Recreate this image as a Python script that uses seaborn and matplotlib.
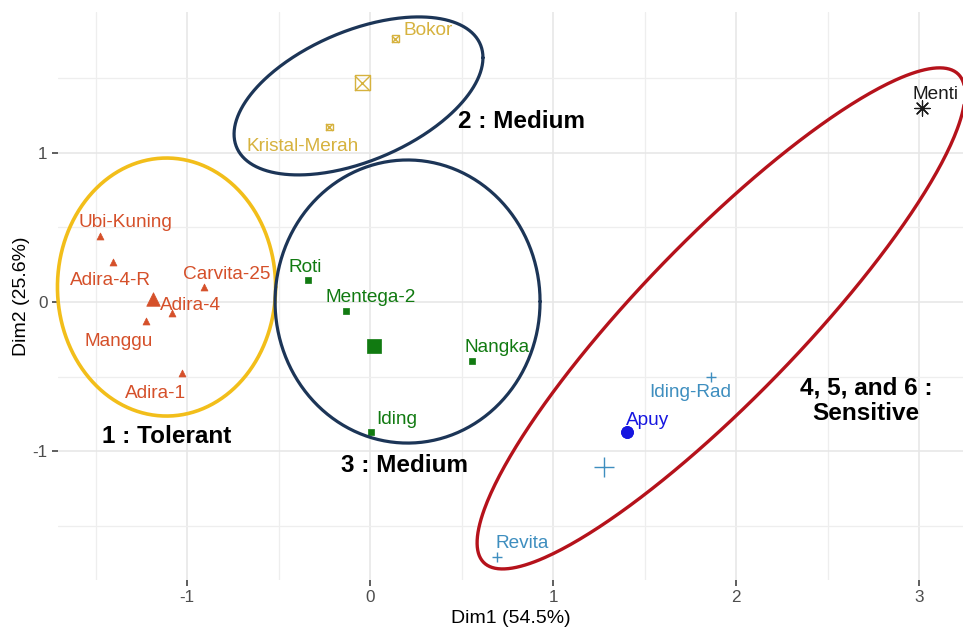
import numpy as np
import pandas as pd
import matplotlib
matplotlib.use("Agg")
import matplotlib.pyplot as plt
import seaborn as sns
from matplotlib.ticker import MultipleLocator

# PCA scores of the genotypes (first two dimensions) and their cluster
genotypes = ["Ubi-Kuning", "Adira-4-R", "Adira-4", "Carvita-25", "Manggu", "Adira-1",
             "Bokor", "Kristal-Merah",
             "Roti", "Mentega-2", "Nangka", "Iding",
             "Apuy",
             "Iding-Rad", "Revita",
             "Menti"]
dim1 = [-1.475, -1.404, -1.082, -0.907, -1.224, -1.027,
        0.137, -0.224,
        -0.339, -0.131, 0.557, 0.005,
        1.404,
        1.863, 0.694,
        3.016]
dim2 = [0.442, 0.268, -0.074, 0.100, -0.127, -0.476,
        1.762, 1.172,
        0.147, -0.060, -0.395, -0.871,
        -0.871,
        -0.502, -1.707,
        1.299]
cluster = [1, 1, 1, 1, 1, 1, 2, 2, 3, 3, 3, 3, 4, 5, 5, 6]

group_titles = ["1 : Tolerant", "2 : Medium", "3 : Medium", "4, 5, and 6 :\nSensitive"]

x_label = "Dim1 (54.5%)"
y_label = "Dim2 (25.6%)"

# ---- styling -------------------------------------------------------------
cluster_colors = {1: "#D5502A", 2: "#D6B23E", 3: "#117A11",
                  4: "#1616E0", 5: "#3E8EBF", 6: "#1A1A1A"}
# marker, member size, centroid size
cluster_markers = {1: ("^", 25, 95), 2: ("sqx", 25, 117), 3: ("s", 20, 90),
                   4: ("o", 74, 74), 5: ("+", 52, 190), 6: ("ast", 120, 120)}

# label offsets in pixels (dx, dy up)
label_dx = [25, -3, 18, 23, -27, -27, 33, -26, -3, 25, 25, 26, 21, -21, 25, 13]
label_dy = [13, -19, 8, 13, -21, -20, 8, -20, 13, 13, 13, 13, 12, -16, 13, 14]

title_x = [-1.109, 0.825, 0.191, 2.71]
title_y = [-0.904, 1.212, -1.098, -0.663]

# ellipse outlines: centre, x semi-axis, y coupling (cos, sin)
ellipse_params = [(-1.112, 0.100, 0.596, 0.000, 0.864),
                  (-0.063, 1.380, 0.680, 0.256, 0.463),
                  (0.205, 0.003, 0.724, 0.000, 0.948),
                  (1.918, -0.110, 1.333, 1.503, 0.746)]
ellipse_colors = ["#F2BE1A", "#1C3557", "#1C3557", "#B5121B"]
ellipse_widths = [2.6, 2.3, 2.3, 2.4]

sns.set_theme(style="white")
plt.rcParams["font.family"] = ["Liberation Sans", "DejaVu Sans"]

df = pd.DataFrame({"genotype": genotypes, "Dim1": dim1, "Dim2": dim2, "cluster": cluster})
centroids = df.groupby("cluster")[["Dim1", "Dim2"]].mean().reset_index()

fig = plt.figure(figsize=(9.63, 6.30), dpi=100)
ax = fig.add_axes([58 / 963, 50 / 630, 905 / 963, 568 / 630])


def draw(points, marker, size, color):
    common = dict(data=points, x="Dim1", y="Dim2", ax=ax, legend=False, zorder=3)
    if marker == "sqx":
        sns.scatterplot(marker="s", s=size, color=color, facecolor="none",
                        edgecolor=color, linewidth=1.0, **common)
        sns.scatterplot(marker="x", s=size, color=color, linewidth=1.0, **common)
    elif marker == "ast":
        sns.scatterplot(marker=(8, 2, 0), s=size, color=color, linewidth=0.8, **common)
    elif marker == "+":
        sns.scatterplot(marker="+", s=size, color=color, linewidth=1.0, **common)
    else:
        sns.scatterplot(marker=marker, s=size, color=color, edgecolor=color,
                        linewidth=0.5, **common)


for k, (mk, s_pt, s_cen) in cluster_markers.items():
    col = cluster_colors[k]
    draw(df[df["cluster"] == k], mk, s_pt, col)
    draw(centroids[centroids["cluster"] == k], mk, s_cen, col)

# genotype labels
for i, row in df.iterrows():
    ax.annotate(row["genotype"], (row["Dim1"], row["Dim2"]),
                xytext=(label_dx[i], label_dy[i]), textcoords="offset pixels",
                ha="center", va="center", fontsize=13.7,
                color=cluster_colors[row["cluster"]], zorder=4)

# cluster outlines
t = np.linspace(0, 2 * np.pi, 400)
for (cx, cy, a, c, d), col, lw in zip(ellipse_params, ellipse_colors, ellipse_widths):
    ax.plot(cx + a * np.cos(t), cy + c * np.cos(t) + d * np.sin(t),
            color=col, lw=lw, zorder=5, clip_on=False, solid_capstyle="round")

# cluster titles
for txt, tx, ty in zip(group_titles, title_x, title_y):
    ax.text(tx, ty, txt, ha="center", va="center", fontsize=17.5,
            fontweight="bold", color="black", zorder=6, linespacing=1.15)

ax.set_xlim(-1.705, 3.240)
ax.set_ylim(-1.862, 1.942)
ax.xaxis.set_major_locator(MultipleLocator(1))
ax.yaxis.set_major_locator(MultipleLocator(1))
ax.xaxis.set_minor_locator(MultipleLocator(0.5))
ax.yaxis.set_minor_locator(MultipleLocator(0.5))
ax.set_xticks(ax.get_xticks())
ax.set_yticks(ax.get_yticks())
ax.set_xticklabels([f"{v:g}" for v in ax.get_xticks()])
ax.set_yticklabels([f"{v:g}" for v in ax.get_yticks()])
ax.set_xlim(-1.705, 3.240)
ax.set_ylim(-1.862, 1.942)

ax.grid(which="major", color="#E6E6E6", lw=1.1)
ax.grid(which="minor", color="#EEEEEE", lw=0.9)
ax.set_axisbelow(True)
for sp in ax.spines.values():
    sp.set_visible(False)

ax.tick_params(which="major", direction="out", length=4, width=1.1,
               color="#333333", labelsize=12.3, labelcolor="#4D4D4D", pad=3.5,
               bottom=True, left=True)
ax.tick_params(which="minor", length=0)

ax.set_xlabel(x_label, fontsize=14, color="black", labelpad=3)
ax.set_ylabel(y_label, fontsize=14, color="black", labelpad=2)

fig.savefig("out.png", dpi=100)
